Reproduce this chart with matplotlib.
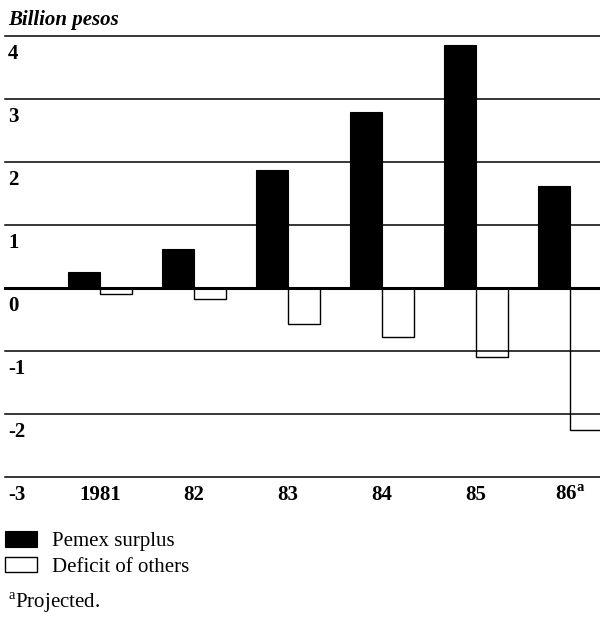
import numpy as np
import matplotlib
matplotlib.use('Agg')
import matplotlib.pyplot as plt
import matplotlib.transforms as mtransforms

# values (billion pesos)
years = ['1981', '82', '83', '84', '85', '86$^{\\mathregular{a}}$']
pemex_surplus = [0.26, 0.62, 1.87, 2.79, 3.86, 1.62]
deficit_others = [-0.10, -0.18, -0.57, -0.78, -1.10, -2.25]
y_ticks = [4, 3, 2, 1, 0, -1, -2, -3]
y_labels = ['4', '3', '2', '1', '0', '-1', '-2', '-3']

plt.rcParams['font.family'] = ['Liberation Serif', 'DejaVu Serif']
W, H = 600, 617
FS = 15
fig = plt.figure(figsize=(W / 100, H / 100), dpi=100)
ax = fig.add_axes([5 / W, (H - 477) / H, 595 / W, (477 - 36) / H])

x = np.arange(len(years))
bw = 0.34
ax.bar(x - bw / 2, pemex_surplus, bw, color='black', edgecolor='black', lw=0.8,
       label='Pemex surplus', zorder=3)
ax.bar(x + bw / 2, deficit_others, bw, color='white', edgecolor='black', lw=1.0,
       label='Deficit of others', zorder=3)

for v in y_ticks:
    ax.axhline(v, color='black', lw=2.2 if v == 0 else 1.1, zorder=4, clip_on=False)

trans = mtransforms.blended_transform_factory(ax.transAxes, ax.transData)
for v, lab in zip(y_ticks, y_labels):
    ax.annotate(lab, (0.005, v), xycoords=trans, xytext=(0, -8), textcoords='offset pixels',
                ha='left', va='top', fontsize=FS, fontweight='bold')

ax.set_xlim(-1.01, 5.32)
ax.set_ylim(-3, 4)
ax.set_xticks(x, years, fontsize=FS, fontweight='bold')
ax.tick_params(axis='x', length=0, pad=6)
ax.set_yticks([])
for s in ax.spines.values():
    s.set_visible(False)

fig.text(8 / W, 1 - 20 / H, 'Billion pesos', ha='left', va='center',
         fontsize=FS, fontweight='bold', style='italic')

fig.legend(loc='upper left', bbox_to_anchor=(5 / W, 1 - 531 / H), frameon=False,
           fontsize=FS, handlelength=1.54, handleheight=0.77, handletextpad=0.72,
           labelspacing=0.27, borderaxespad=0, borderpad=0)

fig.text(8 / W, 1 - 603 / H, '$^{\\mathregular{a}}$Projected.', ha='left', va='center',
         fontsize=FS)

fig.savefig('out.png', dpi=100)
